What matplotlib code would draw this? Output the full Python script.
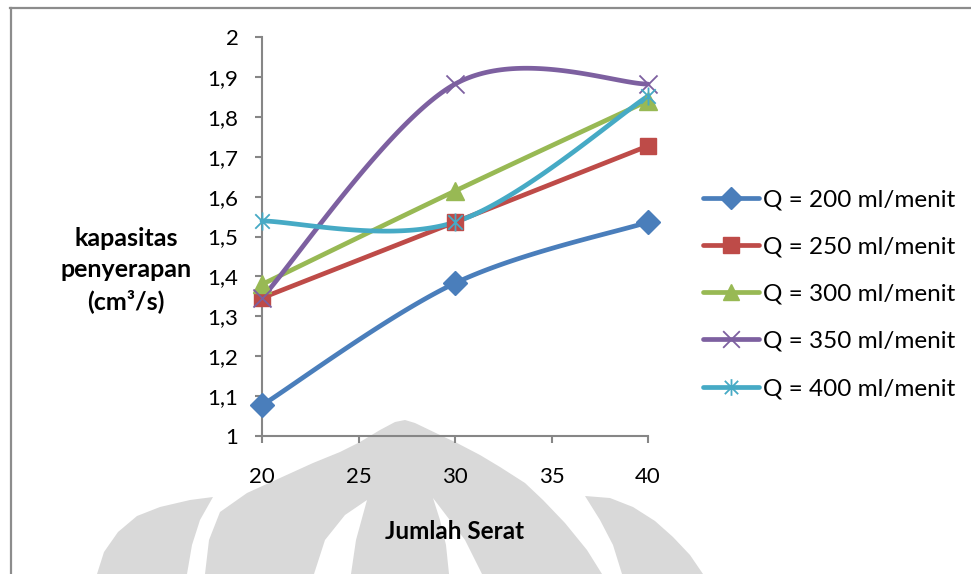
import numpy as np
import matplotlib
matplotlib.use("Agg")
import matplotlib.pyplot as plt
from matplotlib.lines import Line2D
from matplotlib.patches import Polygon
from matplotlib.path import Path

plt.rcParams['font.family'] = ['Lato', 'DejaVu Sans']

# ---- data ----
jumlah_serat = [20, 30, 40]
q200 = [1.077, 1.383, 1.536]
q250 = [1.346, 1.536, 1.727]
q300 = [1.380, 1.614, 1.840]
q350 = [1.346, 1.882, 1.882]
q400 = [1.539, 1.536, 1.852]
series_labels = ["Q = 200 ml/menit", "Q = 250 ml/menit", "Q = 300 ml/menit",
                 "Q = 350 ml/menit", "Q = 400 ml/menit"]
y_ticks = [1.0, 1.1, 1.2, 1.3, 1.4, 1.5, 1.6, 1.7, 1.8, 1.9, 2.0]
y_ticklabels = ["1", "1,1", "1,2", "1,3", "1,4", "1,5", "1,6", "1,7", "1,8", "1,9", "2"]
x_ticks = [20, 25, 30, 35, 40]
x_ticklabels = ["20", "25", "30", "35", "40"]

colors = ["#4a7ebb", "#be4b48", "#98b954", "#7d60a0", "#46aac5"]

star = Path([(-1, -1), (1, 1), (-1, 1), (1, -1), (0, -1.25), (0, 1.25)],
            [Path.MOVETO, Path.LINETO, Path.MOVETO, Path.LINETO, Path.MOVETO, Path.LINETO])
xmark = Path([(-1, -1), (1, 1), (-1, 1), (1, -1)],
             [Path.MOVETO, Path.LINETO, Path.MOVETO, Path.LINETO])
markers = ["D", "s", "^", xmark, star]
msizes = [12, 12, 13, 13, 13]
filled = [True, True, True, False, False]


def smooth(xs, ys, n=60):
    """Excel-like smoothed line: Catmull-Rom cubic Bezier segments."""
    P = np.column_stack([xs, ys]).astype(float)
    m = len(P)
    out = []
    for i in range(m - 1):
        p0 = P[i - 1] if i > 0 else P[i]
        p1 = P[i]
        p2 = P[i + 1]
        p3 = P[i + 2] if i + 2 < m else P[i + 1]
        c1 = p1 + (p2 - p0) / 6.0
        c2 = p2 - (p3 - p1) / 6.0
        t = np.linspace(0, 1, n)[:, None]
        seg = ((1 - t) ** 3) * p1 + 3 * ((1 - t) ** 2) * t * c1 + 3 * (1 - t) * t ** 2 * c2 + t ** 3 * p2
        out.append(seg if i == 0 else seg[1:])
    out = np.vstack(out)
    return out[:, 0], out[:, 1]


W, H = 971, 574
fig = plt.figure(figsize=(W / 100, H / 100), dpi=100)
fig.patch.set_facecolor("white")

# ---- background watermark (decoration) ----
def px(pts):
    return [(x / W, 1 - y / H) for x, y in pts]

wm = "#d9d9d9"
left_wing = [(213, 497), (190, 500), (160, 507), (137, 516), (118, 532), (104, 552), (97, 574),
             (187, 574), (192, 545), (200, 520)]
dome = [(205, 574), (209, 540), (220, 512), (247, 493), (280, 478), (313, 463), (340, 452),
        (360, 442), (380, 430), (395, 422), (405, 420), (415, 423), (440, 435), (457, 443),
        (480, 455), (500, 467), (525, 483), (543, 500), (565, 523), (587, 550), (602, 574)]
gap1 = [(367, 500), (345, 515), (325, 540), (314, 574), (351, 574), (356, 540)]
gap2 = [(433, 498), (440, 520), (446, 545), (449, 574), (482, 574), (465, 540)]
right_wing = [(585, 496), (610, 498), (633, 507), (655, 521), (673, 537), (690, 555), (703, 574),
              (622, 574), (613, 545), (600, 520)]
for shape, col in [(left_wing, wm), (dome, wm), (right_wing, wm), (gap1, "white"), (gap2, "white")]:
    fig.patches.append(Polygon(px(shape), closed=True, transform=fig.transFigure,
                               facecolor=col, edgecolor="none", zorder=-5))

# chart border (outer frame, partially cropped)
fig.add_artist(Line2D([11 / W, 11 / W], [0, 1 - 8 / H], transform=fig.transFigure,
                      color="#8c8c8c", lw=1.6, zorder=-4))
fig.add_artist(Line2D([10 / W, 1], [1 - 8 / H, 1 - 8 / H], transform=fig.transFigure,
                      color="#8c8c8c", lw=1.6, zorder=-4))

# ---- axes ----
ax = fig.add_axes([262 / W, 1 - 436 / H, (648 - 262) / W, (436 - 37) / H])
ax.set_zorder(2)
ax.set_facecolor("none")
ax.set_xlim(20, 40)
ax.set_ylim(1, 2)
ax.set_xticks(x_ticks)
ax.set_xticklabels(x_ticklabels)
ax.set_yticks(y_ticks)
ax.set_yticklabels(y_ticklabels)
for s in ["top", "right"]:
    ax.spines[s].set_visible(False)
for s in ["left", "bottom"]:
    ax.spines[s].set_color("#868686")
    ax.spines[s].set_linewidth(1.5)
ax.tick_params(axis="both", colors="#868686", length=5, width=1.5, labelcolor="black",
               labelsize=16)
ax.tick_params(axis="x", pad=17)
ax.tick_params(axis="y", pad=12)

all_series = [q200, q250, q300, q350, q400]
handles = []
for vals, col, mk, ms, fl, lab in zip(all_series, colors, markers, msizes, filled, series_labels):
    sx, sy = smooth(jumlah_serat, vals)
    ax.plot(sx, sy, color=col, lw=3.4, solid_capstyle="round", solid_joinstyle="round",
            zorder=3, clip_on=False)
    if fl:
        ax.plot(jumlah_serat, vals, ls="none", marker=mk, ms=ms, color=col, mec=col,
                zorder=4, clip_on=False)
    else:
        ax.plot(jumlah_serat, vals, ls="none", marker=mk, ms=ms, color=col, mec=col,
                mew=1.3, zorder=4, clip_on=False)
    handles.append(Line2D([0], [0], color=col, lw=3.4, marker=mk, ms=ms - 1, mec=col,
                          mew=(1.3 if not fl else 1.0), solid_capstyle="round", label=lab))

leg = fig.legend(handles=handles, loc="upper left", bbox_to_anchor=(703 / W, 1 - 189 / H),
                 frameon=False, fontsize=17.5, handlelength=2.3, handletextpad=0.15,
                 labelspacing=1.08, borderaxespad=0, borderpad=0)
leg.set_zorder(3)

ax.set_xlabel("Jumlah Serat", fontsize=17.5, fontweight="bold", labelpad=24)
fig.text(126 / W, 1 - 270 / H, "kapasitas\npenyerapan\n(cm³/s)", ha="center", va="center",
         fontsize=18, fontweight="bold", linespacing=1.4, zorder=3)

fig.savefig("out.png", dpi=100)
